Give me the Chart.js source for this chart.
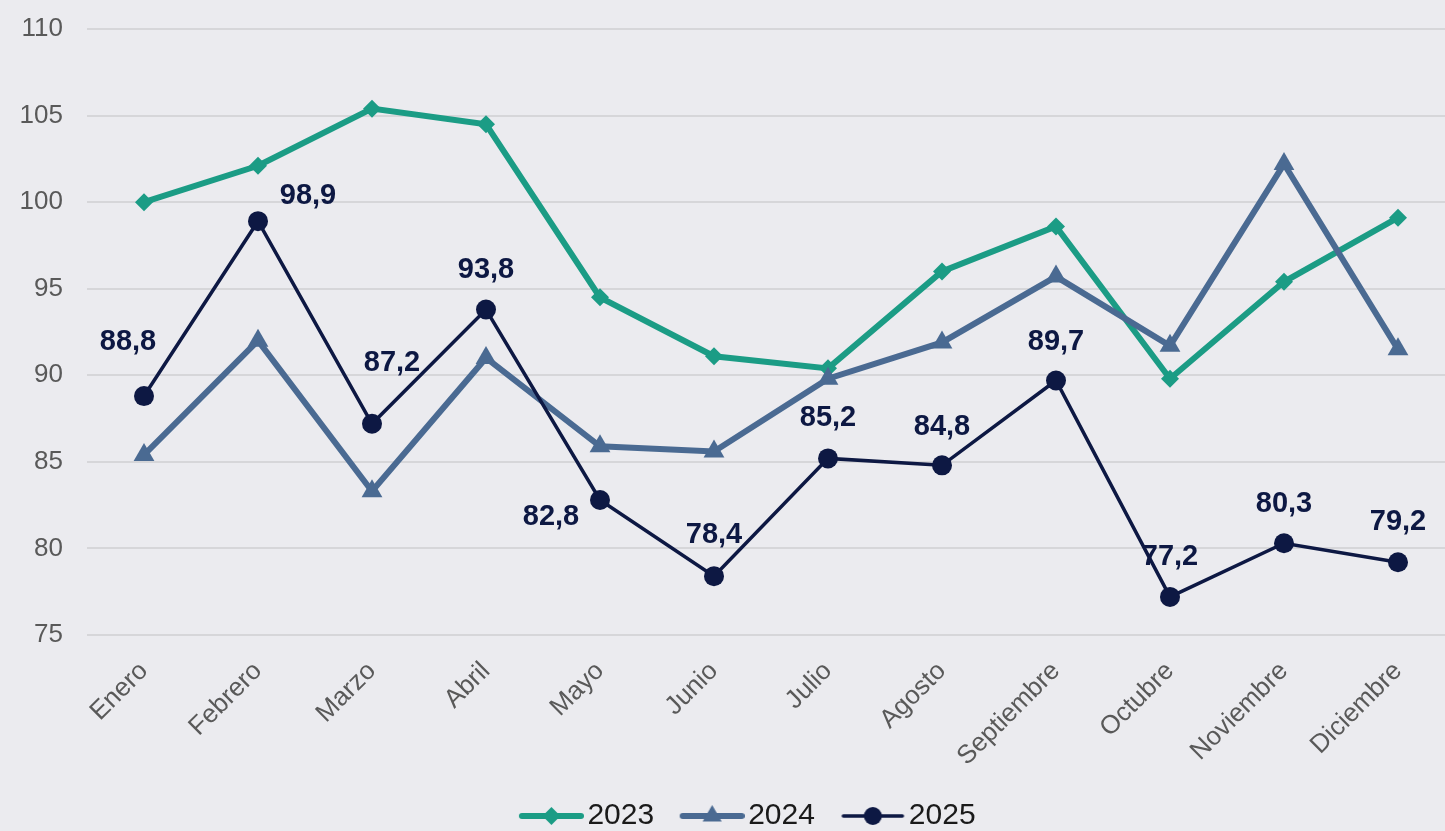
<!DOCTYPE html>
<html>
<head>
<meta charset="utf-8">
<script src="https://cdn.jsdelivr.net/npm/chart.js@4.4.1/dist/chart.umd.min.js"></script>
<style>
  html, body { margin: 0; padding: 0; background: #ebebef; overflow: hidden; }
  #wrap { width: 1479px; height: 831px; }
</style>
</head>
<body>
<div id="wrap"><canvas id="myChart" width="1479" height="831"></canvas></div>
<script>
const months = ["Enero", "Febrero", "Marzo", "Abril", "Mayo", "Junio", "Julio", "Agosto", "Septiembre", "Octubre", "Noviembre", "Diciembre"];
const years = ["2023", "2024", "2025"];
const values2023 = [100, 102.1, 105.4, 104.5, 94.5, 91.1, 90.4, 96.0, 98.6, 89.8, 95.4, 99.1];
const values2024 = [85.4, 92.0, 83.3, 91.0, 85.9, 85.6, 89.8, 91.9, 95.7, 91.7, 102.2, 91.5];
const values2025 = [88.8, 98.9, 87.2, 93.8, 82.8, 78.4, 85.2, 84.8, 89.7, 77.2, 80.3, 79.2];
const yTicks = { min: 75, max: 110, step: 5 };

// where each 2025 value label sits relative to its point
const labelShift = [[-16, -54], [50, -25], [20, -61], [0, -39], [-49, 17], [0, -41], [0, -40], [0, -38], [0, -38], [0, -40], [0, -39], [0, -40]];

const green = "#1b9c85";
const blue = "#4a6a92";
const navy = "#0d1843";
const fontFamily = "'Liberation Sans', Arial, sans-serif";

function formatValue(v) {
  return v.toFixed(1).replace(".", ",");
}

function drawMarker(g, style, x, y, r) {
  g.beginPath();
  if (style === "rectRot") {
    g.moveTo(x, y - r); g.lineTo(x + r, y); g.lineTo(x, y + r); g.lineTo(x - r, y);
  } else if (style === "triangle") {
    g.moveTo(x, y - r); g.lineTo(x + r * 0.866, y + r / 2); g.lineTo(x - r * 0.866, y + r / 2);
  } else {
    g.arc(x, y, r, 0, Math.PI * 2);
  }
  g.closePath();
  g.fill();
}

// small picture of line + marker for the legend
function legendIcon(color, width, style, r) {
  const c = document.createElement("canvas");
  c.width = 92;
  c.height = 30;
  const g = c.getContext("2d");
  g.strokeStyle = color;
  g.fillStyle = color;
  g.lineWidth = width;
  g.lineCap = "round";
  g.beginPath();
  g.moveTo(30, 15);
  g.lineTo(89, 15);
  g.stroke();
  drawMarker(g, style, 59.5, 15, r);
  return c;
}

const legendIcons = [
  legendIcon(green, 6, "rectRot", 9),
  legendIcon(blue, 6, "triangle", 11),
  legendIcon(navy, 3.5, "circle", 9),
];

const valueLabels = {
  id: "valueLabels",
  afterDatasetsDraw(chart) {
    const meta = chart.getDatasetMeta(2);
    const ctx = chart.ctx;
    ctx.save();
    ctx.font = "bold 29px " + fontFamily;
    ctx.fillStyle = navy;
    ctx.textAlign = "center";
    ctx.textBaseline = "middle";
    meta.data.forEach((pt, i) => {
      ctx.fillText(formatValue(values2025[i]), pt.x + labelShift[i][0], pt.y + labelShift[i][1]);
    });
    ctx.restore();
  },
};

const data = {
  labels: months,
  datasets: [
    {
      label: years[0],
      data: values2023,
      borderColor: green,
      backgroundColor: green,
      borderWidth: 6,
      pointStyle: "rectRot",
      pointRadius: 9,
      pointBorderWidth: 0,
      order: 3,
    },
    {
      label: years[1],
      data: values2024,
      borderColor: blue,
      backgroundColor: blue,
      borderWidth: 6,
      pointStyle: "triangle",
      pointRadius: 12,
      pointBorderWidth: 0,
      order: 2,
    },
    {
      label: years[2],
      data: values2025,
      borderColor: navy,
      backgroundColor: navy,
      borderWidth: 3.5,
      pointStyle: "circle",
      pointRadius: 10,
      pointBorderWidth: 0,
      order: 1,
    },
  ],
};

const config = {
  type: "line",
  data,
  options: {
    responsive: false,
    animation: false,
    devicePixelRatio: 1,
    layout: {
      padding: { top: 29, left: 0, right: 0, bottom: -10 },
    },
    plugins: {
      tooltip: { enabled: false },
      legend: {
        position: "bottom",
        labels: {
          usePointStyle: true,
          pointStyleWidth: 69,
          padding: 10,
          color: "#1a1a1a",
          font: { family: fontFamily, size: 30 },
          generateLabels: (chart) =>
            chart.data.datasets.map((ds, i) => ({
              text: ds.label,
              pointStyle: legendIcons[i],
              fontColor: "#1a1a1a",
              fillStyle: "transparent",
              strokeStyle: "transparent",
              lineWidth: 0,
              hidden: false,
              datasetIndex: i,
            })),
        },
      },
    },
    scales: {
      x: {
        offset: true,
        grid: { display: false },
        border: { display: false },
        ticks: {
          minRotation: 45,
          maxRotation: 45,
          padding: 13,
          color: "#595959",
          font: { family: fontFamily, size: 26 },
        },
        afterFit(scale) {
          scale.height = 156;
          scale.paddingLeft = 0;
          scale.paddingRight = 24;
        },
      },
      y: {
        min: yTicks.min,
        max: yTicks.max,
        grid: { color: "#d6d6d9", lineWidth: 2, drawTicks: false },
        border: { display: false },
        ticks: {
          stepSize: yTicks.step,
          padding: 24,
          color: "#595959",
          font: { family: fontFamily, size: 26 },
        },
        afterFit(scale) {
          scale.width = 87;
          scale.paddingTop = 0;
          scale.paddingBottom = 0;
        },
      },
    },
  },
  plugins: [valueLabels],
};

const myChart = new Chart(document.getElementById("myChart"), config);
</script>
</body>
</html>
